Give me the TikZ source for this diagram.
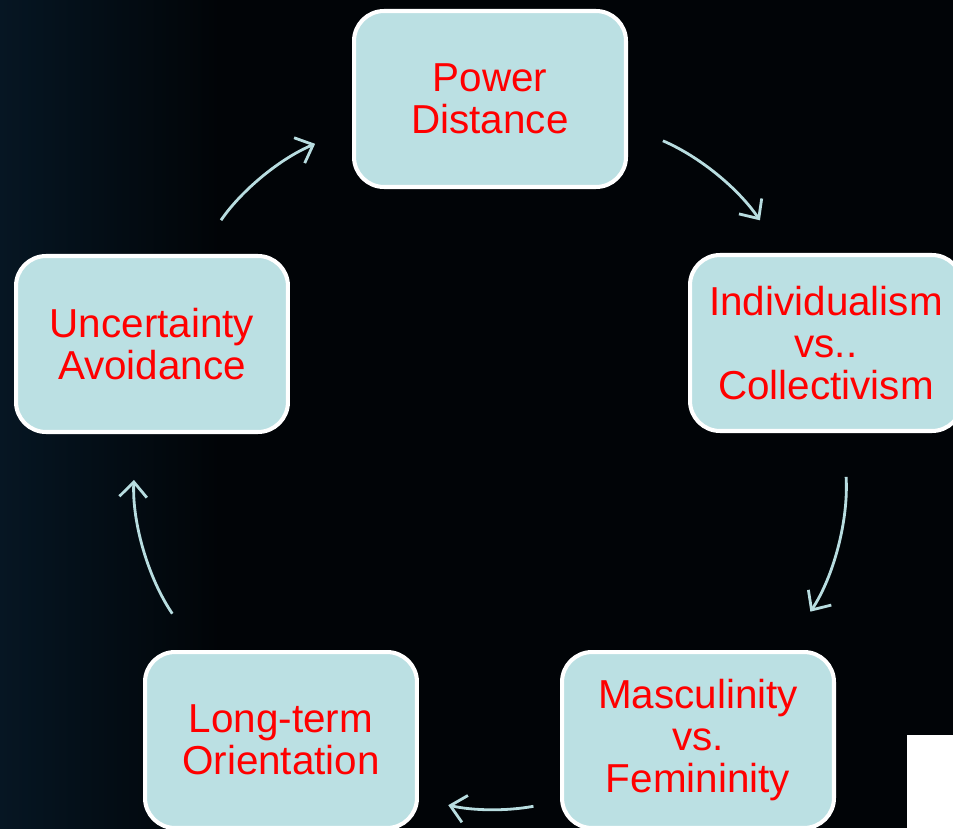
\documentclass[tikz,border=0pt]{standalone}
\usepackage{fontspec}
\setmainfont{Liberation Sans}
\usetikzlibrary{arrows.meta}
\definecolor{boxfill}{RGB}{187,224,227}
\definecolor{arrowcol}{RGB}{184,221,224}
\definecolor{bgcol}{RGB}{1,4,7}
\definecolor{glow}{RGB}{6,22,35}

\begin{document}
\begin{tikzpicture}[x=0.02cm,y=-0.02cm,
  box/.style={draw=white,line width=2.3pt,fill=boxfill,rounded corners=0.6cm,minimum width=5.44cm,minimum height=3.52cm,text=red,font=\fontsize{23}{24}\selectfont},
  cyc/.style={arrowcol,line width=1.6pt,-{Straight Barb[length=0.3cm,width=0.55cm]}}]
\clip (0,0) rectangle (953,828);
\fill[bgcol] (0,0) rectangle (953,828);
\shade[left color=glow,right color=bgcol] (0,0) rectangle (220,828);
\node[box] (0) at (490,99) {\begin{minipage}{5cm}\centering Power\\Distance\end{minipage}};
\node[box] (1) at (826,343) {\begin{minipage}{5cm}\centering Individualism\\vs..\\Collectivism\end{minipage}};
\node[box] (2) at (698,740) {\begin{minipage}{5cm}\centering Masculinity\\vs.\\Femininity\end{minipage}};
\node[box] (3) at (281,740) {\begin{minipage}{5cm}\centering Long-term\\Orientation\end{minipage}};
\node[box] (4) at (152,344) {\begin{minipage}{5cm}\centering Uncertainty\\Avoidance\end{minipage}};
\fill[white] (907,735) rectangle (953,828);
\draw[cyc,shorten <=0.76cm,shorten >=0.79cm](0.-11.5)to[bend left=16.3](1.116.3);
\draw[cyc,shorten <=0.88cm,shorten >=0.92cm](1.-79.3)to[bend left=18.5](2.46.4);
\draw[cyc,shorten <=0.54cm,shorten >=0.6cm](2.-156.5)to[bend left=11.5](3.-23.5);
\draw[cyc,shorten <=0.88cm,shorten >=0.92cm](3.133.6)to[bend left=18.5](4.-100.1);
\draw[cyc,shorten <=0.82cm,shorten >=0.8cm](4.63.6)to[bend left=16.4](0.-168.6);
\end{tikzpicture}
\end{document}
